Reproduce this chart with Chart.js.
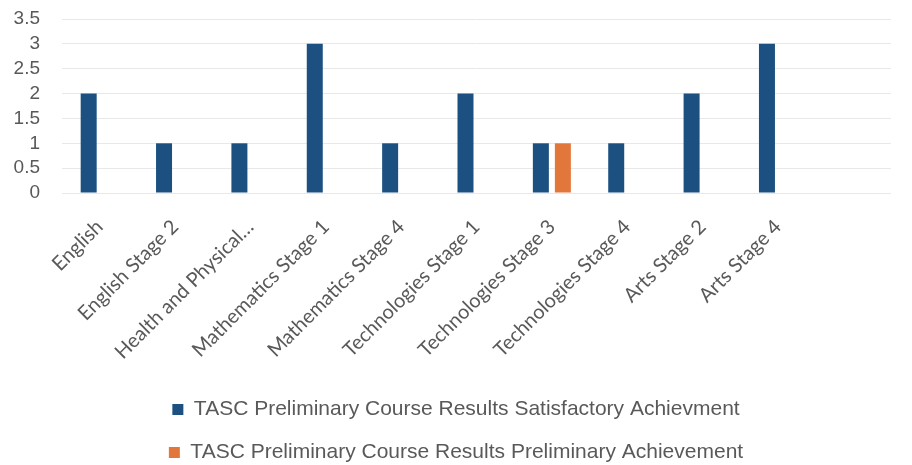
<!DOCTYPE html>
<html>
<head>
<meta charset="utf-8">
<script src="https://cdn.jsdelivr.net/npm/chart.js@4"></script>
<style>
  html, body { margin: 0; padding: 0; background: #fff; }
  #wrap { width: 912px; height: 465px; }
</style>
</head>
<body>
<div id="wrap"><canvas id="graphique"></canvas></div>
<script>
// Matières (la dernière catégorie est vide, comme dans l'original)
const matieres = [
    "English", "English Stage 2", "Health and Physical…", "Mathematics Stage 1",
    "Mathematics Stage 4", "Technologies Stage 1", "Technologies Stage 3",
    "Technologies Stage 4", "Arts Stage 2", "Arts Stage 4", ""
];
const satisfaisant = [2, 1, 1, 3, 1, 2, 1, 1, 2, 3, null];
const preliminaire = [null, null, null, null, null, null, 1, null, null, null, null];
const nomsSeries = [
    "TASC Preliminary Course Results Satisfactory Achievment",
    "TASC Preliminary Course Results Preliminary Achievement"
];
const graduationsY = [0, 0.5, 1, 1.5, 2, 2.5, 3, 3.5];

const gris = "#595959";
const margeBas = -8;

const data = {
    labels: matieres,
    datasets: [{
        label: nomsSeries[0],
        data: satisfaisant,
        backgroundColor: "#1b5080",
        borderWidth: 0,
    }, {
        label: nomsSeries[1],
        data: preliminaire,
        backgroundColor: "#e2773c",
        borderWidth: 0,
    }],
};

const config = {
    type: "bar",
    data: data,
    options: {
        responsive: true,
        maintainAspectRatio: false,
        animation: false,
        categoryPercentage: 0.584,
        barPercentage: 0.727,
        layout: { padding: { top: 0, right: 0, left: 0, bottom: margeBas } },
        plugins: {
            tooltip: { enabled: false },
            legend: {
                position: "bottom",
                labels: {
                    color: gris,
                    font: { family: "Liberation Sans", size: 21 },
                    boxWidth: 11,
                    boxHeight: 11,
                    padding: 22,
                },
            },
        },
        scales: {
            x: {
                grid: { display: false },
                border: { display: false },
                ticks: {
                    color: gris,
                    font: { family: "Lato", size: 20 },
                    autoSkip: false,
                    minRotation: 45,
                    maxRotation: 45,
                    padding: 14,
                },
                // hauteur de l'axe pour que le bas du graphique tombe vers y=193
                afterFit: function (scale) {
                    const legende = scale.chart.legend;
                    const hLegende = legende ? legende.height : 0;
                    scale.height = scale.chart.height - margeBas - hLegende - 193;
                },
            },
            y: {
                min: graduationsY[0],
                max: graduationsY[graduationsY.length - 1],
                border: { display: false },
                grid: { color: "#e8e8e8", drawTicks: false },
                afterBuildTicks: function (scale) {
                    scale.ticks = graduationsY.map(v => ({ value: v }));
                },
                ticks: {
                    autoSkip: false,
                    color: gris,
                    font: { family: "Liberation Sans", size: 19 },
                    padding: 22,
                    callback: function (valeur) { return String(valeur); },
                },
                afterFit: function (scale) {
                    scale.width = 62;
                    // le haut du graphique vers y=19
                    scale.paddingTop = 19;
                    scale.paddingBottom = 0;
                },
            },
            // axe vide à droite : réserve la marge sans décentrer la légende
            droite: {
                type: "linear",
                position: "right",
                grid: { display: false },
                border: { display: false },
                ticks: { display: false },
                afterFit: function (scale) { scale.width = 21; },
            },
        },
    },
};

new Chart(document.querySelector("#graphique"), config);
</script>
</body>
</html>
